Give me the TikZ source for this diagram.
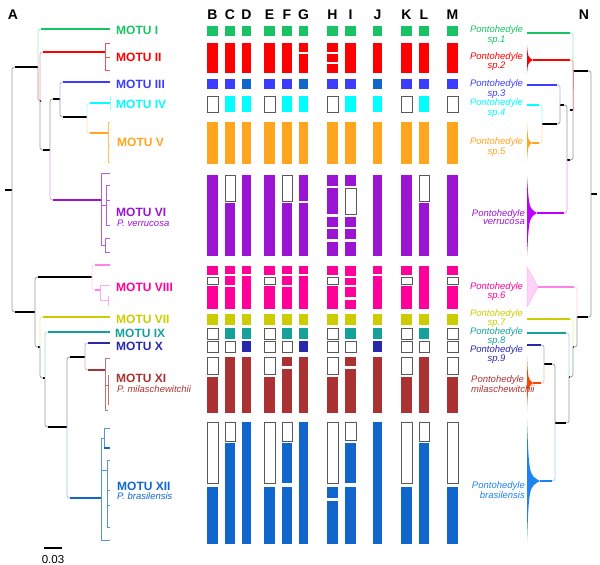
\documentclass[tikz,border=0pt]{standalone}
\usepackage{fontspec}
\setmainfont{Liberation Sans}
\usetikzlibrary{positioning,calc}

\definecolor{cI}{RGB}{25,195,100}
\definecolor{cII}{RGB}{255,0,0}
\definecolor{cIII}{RGB}{60,60,255}
\definecolor{cIIIb}{RGB}{17,102,204}
\definecolor{cIV}{RGB}{0,255,255}
\definecolor{cV}{RGB}{255,165,32}
\definecolor{cVI}{RGB}{155,20,210}
\definecolor{cVII}{RGB}{204,204,0}
\definecolor{cVIII}{RGB}{255,0,153}
\definecolor{cIX}{RGB}{20,160,155}
\definecolor{cX}{RGB}{40,40,170}
\definecolor{cXI}{RGB}{170,50,50}
\definecolor{cXII}{RGB}{17,102,204}
\definecolor{tVI}{RGB}{190,0,255}
\definecolor{tVIII}{RGB}{255,130,235}
\definecolor{tXI}{RGB}{255,70,0}
\definecolor{tXII}{RGB}{30,130,240}

% one column of bars: x centre, width, list of top/bottom/style
\newcommand\bars[3]{\foreach \ya/\yb/\st in {#3}{\path[\st] ({#1-#2/2},\ya) rectangle ({#1+#2/2},\yb);}}
% tree branches, left tree grows right, right tree grows left
\newcommand\lbr[3]{\draw[vline=#1] (#2) |- (#3); \draw[hline=#1] ($(#2|-#3)+(3,0)$) -- (#3);}
\newcommand\rbr[3]{\draw[vline=#1] (#2) |- (#3); \draw[hline=#1] ($(#2|-#3)+(-3,0)$) -- (#3);}

\begin{document}
\begin{tikzpicture}[x=1pt,y=-1pt,
  vline/.style={draw=#1!40, line width=0.7pt, rounded corners=2.5pt},
  hline/.style={draw=#1, line width=1.6pt},
  twig/.style={draw=#1!70, line width=0.8pt},
  fI/.style={fill=cI}, fII/.style={fill=cII}, fIII/.style={fill=cIII}, fIIIb/.style={fill=cIIIb},
  fIV/.style={fill=cIV}, fV/.style={fill=cV}, fVI/.style={fill=cVI}, fVII/.style={fill=cVII},
  fVIII/.style={fill=cVIII}, fIX/.style={fill=cIX}, fX/.style={fill=cX}, fXI/.style={fill=cXI},
  fXII/.style={fill=cXII},
  nil/.style={fill=white, draw=gray!70!black, line width=0.9pt}]
\tikzstyle{head}=[font=\fontsize{14}{16}\selectfont\bfseries, inner sep=0]
\tikzstyle{motu}=[font=\fontsize{12}{14}\selectfont\bfseries, inner sep=0, anchor=west]
\tikzstyle{spec}=[font=\fontsize{9.5}{11}\selectfont\itshape, inner sep=0, anchor=west]
\tikzstyle{rlab}=[font=\fontsize{9.5}{8}\selectfont\itshape, inner sep=0, align=center]
\useasboundingbox (0,0) rectangle (600,565);

\node[head] (hA) at (13,15) {A};
\node[head] (hN) at (584,15) {N};

% columns B--M
\def\cols{212.5/11/B,230/10/C,246.5/9/D,269.5/11/E,287/10/F,303.5/9/G,332.5/11/H,350.5/11/I,377.5/9/J,406.5/11/K,424/10/L,452.5/11/M}
\foreach \x/\w/\n in \cols {
  \node[head] (h\n) at (\x,15) {\n};
  \bars{\x}{\w}{26/36/fI, 122/164/fV, 314/325/fVII}
}
\foreach \x in {212.5,269.5,406.5,452.5} {
  \bars{\x}{11}{43/73/fII, 79/89/fIII, 96/112/nil, 175/256/fVI, 266/275/fVIII, 277/284/nil, 286/309/fVIII, 328/339/nil, 341/352/nil, 357/374/nil, 377/413/fXI, 422/483/nil, 487/544/fXII}
}
\foreach \x in {246.5,377.5} {
  \bars{\x}{9}{43/73/fII, 79/89/fIIIb, 96/112/fIV, 175/256/fVI, 266/274/fVIII, 276/309/fVIII, 328/339/fIX, 341/352/fX, 357/413/fXI, 422/544/fXII}
}
\bars{230}{10}{43/73/fII, 79/89/fIII, 96/112/fIV, 175/201/nil, 203/256/fVI, 266/274/fVIII, 276/285/fVIII, 287/309/fVIII, 328/339/fIX, 341/352/nil, 357/413/fXI, 422/441/nil, 443/544/fXII}
\bars{287}{10}{43/73/fII, 79/89/fIII, 96/112/fIV, 175/201/nil, 203/256/fVI, 266/274/fVIII, 276/285/fVIII, 287/309/fVIII, 328/339/fIX, 341/352/nil, 357/366/fXI, 369/413/fXI, 422/441/nil, 443/483/fXII, 487/544/fXII}
\bars{303.5}{9}{43/52/fII, 54/73/fII, 79/89/fIIIb, 96/112/fIV, 175/201/fVI, 203/256/fVI, 266/274/fVIII, 276/309/fVIII, 328/339/fIX, 341/352/fX, 357/413/fXI, 422/544/fXII}
\bars{332.5}{11}{43/52/fII, 54/62/fII, 64/73/fII, 79/89/fIII, 96/112/nil, 175/186/fVI, 188/214/fVI, 217/227/fVI, 229/239/fVI, 242/256/fVI, 266/275/fVIII, 277/284/nil, 286/309/fVIII, 328/339/nil, 341/352/nil, 357/374/nil, 377/413/fXI, 422/483/nil, 487/498/fXII, 501/544/fXII}
\bars{350.5}{11}{43/73/fII, 79/89/fIII, 96/112/fIV, 175/186/fVI, 188/214/nil, 217/227/fVI, 229/239/fVI, 242/256/fVI, 266/276/fVIII, 278/285/fVIII, 287/297/fVIII, 300/309/fVIII, 328/339/fIX, 341/352/nil, 357/366/fXI, 369/413/fXI, 422/440/nil, 443/483/fXII, 487/544/fXII}
\bars{424}{10}{43/73/fII, 79/89/fIII, 96/112/fIV, 175/201/nil, 203/256/fVI, 266/309/fVIII, 328/339/fIX, 341/352/nil, 357/413/fXI, 422/441/nil, 443/544/fXII}

% left tree
\coordinate (a0) at (12,190);
\coordinate (a1) at (38,67);
\coordinate (a2) at (40,101);
\coordinate (a3) at (50,150);
\coordinate (a4) at (60,99);
\coordinate (a5) at (87,117);
\coordinate (b1) at (35,312);
\coordinate (b2) at (40,347);
\coordinate (b3) at (45,378);
\coordinate (b4) at (67,427);
\coordinate (b5) at (85,357);
\coordinate (lI) at (110,29);
\coordinate (lII) at (105,52);
\coordinate (lIII) at (110,82);
\coordinate (lIV) at (110,103);
\coordinate (lV) at (108,133);
\coordinate (lVI) at (101,200);
\coordinate (lVIII) at (92,277);
\coordinate (lVIIIa) at (110,265);
\coordinate (lVIIIb) at (100,290);
\coordinate (lVII) at (110,317);
\coordinate (lIX) at (110,332);
\coordinate (lX) at (110,343);
\coordinate (lXI) at (105,370);
\coordinate (lXII) at (101,498);
\draw[hline=black] (5,190) -- (a0);
\lbr{black}{a0}{a1} \lbr{black}{a0}{b1}
\lbr{cI}{a1}{lI} \lbr{black}{a1}{a2}
\lbr{cII}{a2}{lII} \lbr{black}{a2}{a3}
\lbr{black}{a3}{a4} \lbr{cVI}{a3}{lVI}
\lbr{cIII}{a4}{lIII} \lbr{black}{a4}{a5}
\lbr{cIV}{a5}{lIV} \lbr{cV}{a5}{lV}
\lbr{black}{b1}{lVIII} \lbr{black}{b1}{b2}
\lbr{tVIII}{lVIII}{lVIIIa} \lbr{tVIII}{lVIII}{lVIIIb}
\lbr{cVII}{b2}{lVII} \lbr{black}{b2}{b3}
\lbr{cIX}{b3}{lIX} \lbr{black}{b3}{b4}
\lbr{black}{b4}{b5} \lbr{cXII}{b4}{lXII}
\lbr{cX}{b5}{lX} \lbr{cXI}{b5}{lXI}
% small clades at the tips
\draw[twig=cII] (110,43) -- (105,43) -- (105,70) -- (110,70) (105,57) -- (110,57);
\draw[cIV!40, line width=0.8pt] (110,96) -- (110,110);
\draw[twig=cV] (110,122) -- (108,122) -- (108,162) -- (110,162) (108,145) -- (110,145);
\draw[twig=cVI] (110,173) -- (101,173) -- (101,245) -- (105,245)
  (101,205) -- (106,205) (110,185) -- (106,185) -- (106,225) -- (110,225) (106,200) -- (110,200)
  (110,238) -- (105,238) -- (105,252) -- (110,252);
\draw[twig=tVIII] (110,285) -- (100,285) -- (100,300) -- (108,300) (108,296) -- (108,306);
\draw[twig=cXI] (110,358) -- (105,358) -- (105,410) -- (108,410) (105,385) -- (108,385) (108,375) -- (108,405);
\draw[twig=cXII] (110,428) -- (104,428) -- (104,448) -- (110,448) (101,438) -- (104,438)
  (101,438) -- (101,540) -- (110,540) (101,470) -- (107,470)
  (110,460) -- (107,460) -- (107,527) -- (110,527) (107,490) -- (110,490) (107,505) -- (110,505);
\draw[hline=cXII] (104,448) -- (110,448);

% left labels
\node[motu, cI] (mI) at (116,30.5) {MOTU I};
\node[motu, cII] (mII) at (116,57) {MOTU II};
\node[motu, cIII] (mIII) at (116,84.5) {MOTU III};
\node[motu, cIV] (mIV) at (116,104) {MOTU IV};
\node[motu, cV] (mV) at (117,142) {MOTU V};
\node[motu, cVI] (mVI) at (116,212.5) {MOTU VI};
\node[spec, cVI] (pVI) at (117,223) {P. verrucosa};
\node[motu, cVIII] (mVIII) at (116,287.5) {MOTU VIII};
\node[motu, cVII] (mVII) at (116,319) {MOTU VII};
\node[motu, cIX] (mIX) at (115,333.5) {MOTU IX};
\node[motu, cX] (mX) at (116,346) {MOTU X};
\node[motu, cXI] (mXI) at (116,378) {MOTU XI};
\node[spec, cXI] (pXI) at (117,389) {P. milaschewitchii};
\node[motu, cXII] (mXII) at (117,486) {MOTU XII};
\node[spec, cXII] (pXII) at (117,496.5) {P. brasilensis};

% scale bar
\coordinate (sb1) at (44,548);
\coordinate (sb2) at (62,548);
\draw[line width=1.5pt] (sb1) -- (sb2) node[midway, below=3pt, font=\fontsize{11.5}{13}\selectfont] (sbl) {0.03};

% right tree
\coordinate (m0) at (591,194);
\coordinate (m1) at (573,71);
\coordinate (m2) at (573,110);
\coordinate (m3) at (567,160);
\coordinate (m4) at (560,105);
\coordinate (m5) at (542,124);
\coordinate (p1) at (577,317);
\coordinate (p2) at (573,347);
\coordinate (p3) at (569,377);
\coordinate (p4) at (555,423);
\coordinate (p5) at (544,364);
\coordinate (r1) at (527,33);
\coordinate (r2) at (533,60);
\coordinate (r3) at (527,85);
\coordinate (r4) at (527,105);
\coordinate (r5) at (532,143);
\coordinate (rv) at (537,213);
\coordinate (r6) at (538,287);
\coordinate (r7) at (527,319);
\coordinate (r8) at (527,333);
\coordinate (r9) at (527,345);
\coordinate (rm) at (533,383);
\coordinate (rb) at (540,481);
\fill[cII] (527,45) .. controls (528,57) .. (r2) .. controls (528,63) .. (527,73) -- cycle;
\fill[cV] (527,123) .. controls (528,140) .. (r5) .. controls (528,146) .. (527,162) -- cycle;
\fill[tVI] (527,176) .. controls (529,208) .. (rv) .. controls (529,218) .. (527,256) -- cycle;
\filldraw[fill=tVIII!35, draw=tVIII!60, line width=0.5pt] (527,267) -- (r6) -- (527,307) -- cycle;
\fill[tXI] (527,356) .. controls (528,379) .. (rm) .. controls (528,387) .. (527,410) -- cycle;
\fill[tXII] (527,420) .. controls (529,475) .. (rb) .. controls (529,487) .. (527,542) -- cycle;
\draw[hline=black] (m0) -- (597,194);
\rbr{black}{m0}{m1} \rbr{black}{m0}{p1}
\rbr{cI}{m1}{r1} \rbr{black}{m1}{m2}
\rbr{cII}{m2}{r2} \rbr{black}{m2}{m3}
\rbr{black}{m3}{m4} \rbr{tVI}{m3}{rv}
\rbr{cIII}{m4}{r3} \rbr{black}{m4}{m5}
\rbr{cIV}{m5}{r4} \rbr{cV}{m5}{r5}
\rbr{tVIII}{p1}{r6} \rbr{black}{p1}{p2}
\rbr{cVII}{p2}{r7} \rbr{black}{p2}{p3}
\rbr{cIX}{p3}{r8} \rbr{black}{p3}{p4}
\rbr{black}{p4}{p5} \rbr{tXII}{p4}{rb}
\rbr{cX}{p5}{r9} \rbr{tXI}{p5}{rm}

% right labels
\node[rlab, cI] (sI) at (496.5,35) {Pontohedyle\\sp.1};
\node[rlab, cII] (sII) at (496.5,61.5) {Pontohedyle\\sp.2};
\node[rlab, cIII] (sIII) at (496.5,89) {Pontohedyle\\sp.3};
\node[rlab, cIV] (sIV) at (496.5,108) {Pontohedyle\\sp.4};
\node[rlab, cV] (sV) at (496.5,147) {Pontohedyle\\sp.5};
\node[rlab, cVI, align=right, anchor=east] (sVI) at (525,217.5) {Pontohedyle\\verrucosa};
\node[rlab, cVIII] (sVIII) at (496.5,291.5) {Pontohedyle\\sp.6};
\node[rlab, cVII] (sVII) at (496.5,318.5) {Pontohedyle\\sp.7};
\node[rlab, cIX] (sIX) at (496.5,336.5) {Pontohedyle\\sp.8};
\node[rlab, cX] (sX) at (496.5,354.5) {Pontohedyle\\sp.9};
\node[rlab, cXI, align=left, anchor=west] (sXI) at (471,384.5) {Pontohedyle\\milaschewitchii};
\node[rlab, tXII, align=right, anchor=east] (sXII) at (525,490) {Pontohedyle\\brasilensis};
\end{tikzpicture}
\end{document}
